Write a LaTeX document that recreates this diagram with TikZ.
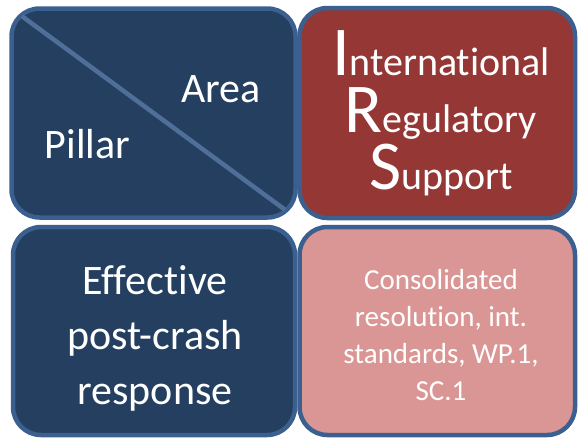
\documentclass[tikz,border=0pt]{standalone}
\usepackage{fontspec}
\setmainfont{Carlito}[Ligatures=NoCommon]
\usetikzlibrary{positioning}
\definecolor{pillarblue}{HTML}{243F60}
\definecolor{edgeblue}{HTML}{3B5F8E}
\definecolor{irsred}{HTML}{953735}
\definecolor{irspink}{HTML}{D99694}
\tikzstyle{tile}=[draw=edgeblue, line width=4.5pt, rounded corners=28pt, inner sep=0pt, outer sep=0pt, text=white, align=center]
\tikzstyle{pillar tile}=[tile, fill=pillarblue]
\tikzstyle{big text}=[text=white, font=\fontsize{42}{55}\selectfont]
\newcommand{\irsinitial}[1]{{\fontsize{70}{57}\selectfont #1}}

\begin{document}
\begin{tikzpicture}[x=1pt, y=-1pt]
      \useasboundingbox (0, 0) rectangle (578, 440);
      \node[pillar tile, minimum width=284pt, minimum height=209pt] (corner) at (153.5, 113) {};
      \node[tile, fill=irsred, minimum width=275.5pt, minimum height=210pt] (irs) at (437.25, 113) {};
      \node[pillar tile, minimum width=282pt, minimum height=208pt] (post) at (154, 331) {};
      \node[tile, fill=irspink, minimum width=275.5pt, minimum height=208pt] (tools) at (437.25, 331) {};
      \draw[edgeblue!90!white, line width=4.5pt, shorten <=13pt, shorten >=13pt] (corner.north west) -- (corner.south east);
      \node[big text, anchor=base] (area) at (221, 102) {Area};
      \node[big text, anchor=base] (pillar) at (87.5, 158) {Pillar};
      \node[big text, align=center] (posttext) at (155, 338) {Effective\\post-crash\\response};
      \node[text=white, align=center, font=\fontsize{40}{57}\selectfont] (irstext) at (441, 113)
        {\irsinitial{I}nternational\\\irsinitial{R}egulatory\\\irsinitial{S}upport};
      \node[text=white, align=center, font=\fontsize{29}{37}\selectfont] (toolstext) at (441, 335)
        {Consolidated\\resolution, int.\\standards, WP.1,\\SC.1};
    \end{tikzpicture}
\end{document}
